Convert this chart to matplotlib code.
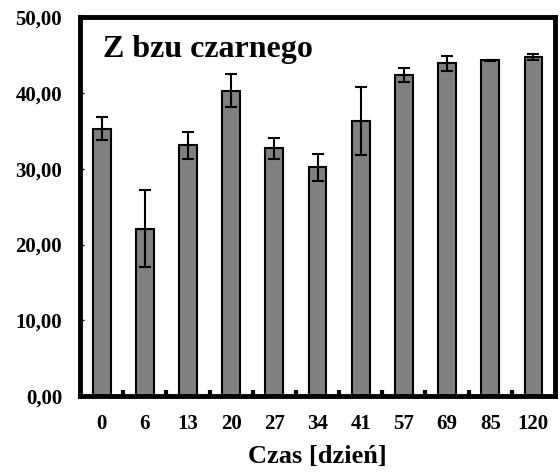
import matplotlib.pyplot as plt
import numpy as np

# time points [days] and mean values with their error (+/-)
days = ['0', '6', '13', '20', '27', '34', '41', '57', '69', '85', '120']
values = [35.3, 22.1, 33.1, 40.3, 32.7, 30.2, 36.3, 42.4, 43.9, 44.3, 44.7]
errors = [1.5, 5.1, 1.8, 2.2, 1.4, 1.8, 4.5, 0.9, 1.0, 0.1, 0.4]
y_ticks = [0, 10, 20, 30, 40, 50]
y_tick_labels = ['0,00', '10,00', '20,00', '30,00', '40,00', '50,00']

plt.rcParams['font.family'] = ['Liberation Serif', 'DejaVu Serif']
plt.rcParams['font.weight'] = 'bold'

fig = plt.figure(figsize=(5.6, 4.75), dpi=100)
ax = fig.add_axes([0.143, 0.166, 0.848, 0.798])

x = np.arange(len(days))
ax.bar(x, values, width=0.41, color='#808080', edgecolor='black', linewidth=1.5, zorder=2)
ax.errorbar(x, values, yerr=errors, fmt='none', ecolor='black', elinewidth=1.5,
            capsize=4.5, capthick=1.5, zorder=3)

ax.set_xlim(-0.5, len(days) - 0.5)
ax.set_ylim(0, 50)

# category labels in the middle, small tick marks on the boundaries
ax.set_xticks(x)
ax.set_xticklabels(days, fontsize=15, fontweight='bold')
ax.tick_params(axis='x', which='major', length=0, pad=13)
ax.set_xticks(np.arange(0.5, len(days) - 1, 1.0), minor=True)
ax.tick_params(axis='x', which='minor', direction='in', length=4, width=3, color='black')

ax.set_yticks(y_ticks)
ax.set_yticklabels(y_tick_labels, fontsize=15, fontweight='bold')
ax.tick_params(axis='y', direction='in', length=3, width=1, pad=13)

for s in ax.spines.values():
    s.set_linewidth(3.5)

ax.text(0.048, 0.915, 'Z bzu czarnego', transform=ax.transAxes, fontsize=23,
        fontweight='bold', va='center', ha='left')
ax.set_xlabel('Czas [dzień]', fontsize=19, fontweight='bold', labelpad=8)

fig.savefig('out.png', dpi=100)
